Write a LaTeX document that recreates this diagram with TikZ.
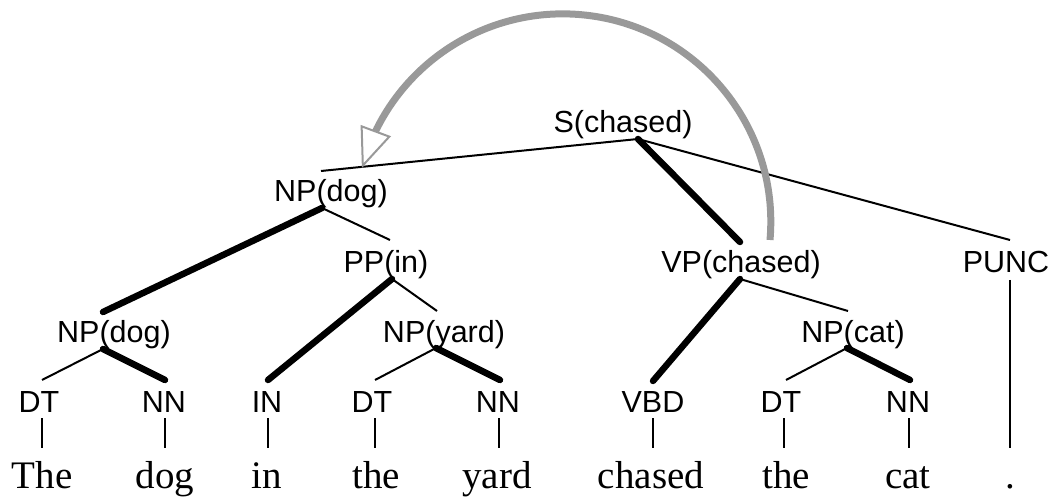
\documentclass[tikz,border=0pt]{standalone}
\usepackage{fontspec}
\setmainfont{Liberation Serif}
\setsansfont{Liberation Sans}
\usetikzlibrary{arrows.meta,bending}
\definecolor{arcgray}{RGB}{153,153,153}
\begin{document}
\begin{tikzpicture}[x=1pt,y=-1pt,
  lab/.style={font=\fontsize{30.5}{32}\selectfont\sffamily, inner sep=0pt, anchor=base},
  word/.style={font=\fontsize{39}{40}\selectfont, inner sep=0pt, anchor=base},
  edge/.style={line width=2pt},
  headedge/.style={line width=6.5pt, line cap=round},
  arcline/.style={arcgray, line width=7pt, -{Triangle[open, length=40pt, width=32pt, line width=2pt]}}
]
\useasboundingbox (0,0) rectangle (1053,497);

% labels
\node[lab] (S)    at (623,133) {S(chased)};
\node[lab] (NPd)  at (331,202) {NP(dog)};
\node[lab] (PP)   at (386,273) {PP(in)};
\node[lab] (VP)   at (741,273) {VP(chased)};
\node[lab] (PUNC) at (1006,273) {PUNC};
\node[lab] (NPd2) at (114,342) {NP(dog)};
\node[lab] (NPy)  at (444,342) {NP(yard)};
\node[lab] (NPc)  at (853,342) {NP(cat)};
\node[lab] (DT1)  at (39,412) {DT};
\node[lab] (NN1)  at (164,412) {NN};
\node[lab] (IN)   at (267,412) {IN};
\node[lab] (DT2)  at (372,412) {DT};
\node[lab] (NN2)  at (498,412) {NN};
\node[lab] (VBD)  at (653,412) {VBD};
\node[lab] (DT3)  at (781,412) {DT};
\node[lab] (NN3)  at (908,412) {NN};

% words
\node[word] (w1) at (42,488) {The};
\node[word] (w2) at (165,488) {dog};
\node[word] (w3) at (267,488) {in};
\node[word] (w4) at (376,488) {the};
\node[word] (w5) at (497,488) {yard};
\node[word] (w6) at (651,488) {chased};
\node[word] (w7) at (786,488) {the};
\node[word] (w8) at (908,488) {cat};
\node[word] (w9) at (1010,488) {.};

% anchor points
\coordinate (S-b)    at (638,139);
\coordinate (NPd-t)  at (321,171);
\coordinate (NPd-b)  at (322,208);
\coordinate (PP-t)   at (390,240);
\coordinate (PP-b)   at (392,279);
\coordinate (VP-t)   at (740,242);
\coordinate (VP-b)   at (740,279);
\coordinate (PUNC-t) at (1010,240);
\coordinate (PUNC-b) at (1010,280);
\coordinate (NPd2-t) at (103,312);
\coordinate (NPd2-b) at (103,349);
\coordinate (NPy-t)  at (437,311);
\coordinate (NPy-b)  at (436,348);
\coordinate (NPc-t)  at (848,311);
\coordinate (NPc-b)  at (847,348);
\coordinate (DT1-t)  at (42,380);
\coordinate (NN1-t)  at (165,380);
\coordinate (IN-t)   at (268,380);
\coordinate (DT2-t)  at (375,380);
\coordinate (NN2-t)  at (500,380);
\coordinate (VBD-t)  at (653,381);
\coordinate (DT3-t)  at (786,380);
\coordinate (NN3-t)  at (910,380);
\foreach \n/\x in {DT1/42,NN1/165,IN/268,DT2/375,NN2/499,VBD/653,DT3/784,NN3/909}{
  \coordinate (\n-b) at (\x,418);
  \coordinate (\n-w) at (\x,448);
}
\coordinate (dot-t) at (1010,448);
\coordinate (arcS) at (770,240);

% tree edges
\draw[edge] (S-b) -- (NPd-t);
\draw[headedge] (S-b) -- (VP-t);
\draw[edge] (S-b) -- (PUNC-t);
\draw[headedge] (NPd-b) -- (NPd2-t);
\draw[edge] (NPd-b) -- (PP-t);
\draw[headedge] (PP-b) -- (IN-t);
\draw[edge] (PP-b) -- (NPy-t);
\draw[edge] (NPy-b) -- (DT2-t);
\draw[headedge] (NPy-b) -- (NN2-t);
\draw[edge] (NPd2-b) -- (DT1-t);
\draw[headedge] (NPd2-b) -- (NN1-t);
\draw[headedge] (VP-b) -- (VBD-t);
\draw[edge] (VP-b) -- (NPc-t);
\draw[edge] (NPc-b) -- (DT3-t);
\draw[headedge] (NPc-b) -- (NN3-t);
\foreach \n in {DT1,NN1,IN,DT2,NN2,VBD,DT3,NN3}{
  \draw[edge] (\n-b) -- (\n-w);
}
\draw[edge] (PUNC-b) -- (dot-t);

% dependency arc
\draw[arcline] (arcS) arc[start angle=-5, end angle=165, radius=208pt];
\end{tikzpicture}
\end{document}
